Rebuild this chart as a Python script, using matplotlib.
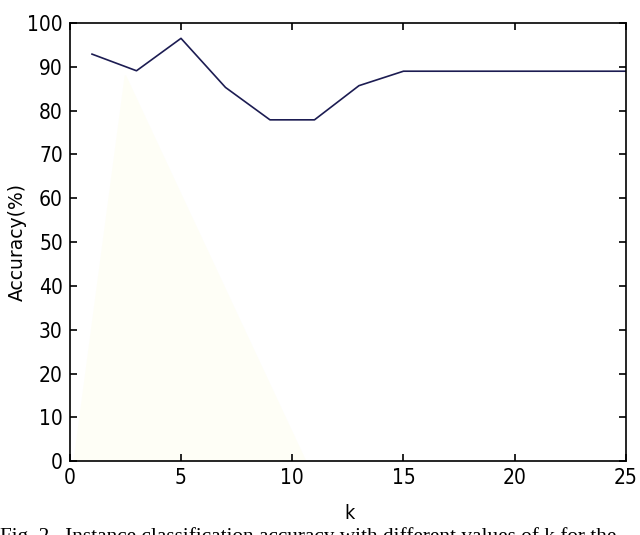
import matplotlib
matplotlib.use('Agg')
import matplotlib.pyplot as plt

# accuracy for each k
k_values = [1, 3, 5, 7, 9, 11, 13, 15, 17, 19, 21, 23, 25]
accuracy = [92.9, 89.1, 96.5, 85.3, 77.9, 77.9, 85.7, 89.0, 89.0, 89.0, 89.0, 89.0, 89.0]

# faint yellow wedge seen behind the curve
shade_x = [0.2, 2.5, 10.6]
shade_y = [0.0, 88.0, 0.0]

xticks = [0, 5, 10, 15, 20, 25]
yticks = [0, 10, 20, 30, 40, 50, 60, 70, 80, 90, 100]

fig = plt.figure(figsize=(6.4, 5.35), dpi=100)
ax = fig.add_axes([0.109, 0.138, 0.869, 0.819])

ax.fill(shade_x, shade_y, color='#fefef6', zorder=0)
ax.plot(k_values, accuracy, color='#1c1c52', linewidth=1.2)

ax.set_xlim(0, 25)
ax.set_ylim(0, 100)
ax.set_xticks(xticks)
ax.set_yticks(yticks)
ax.tick_params(direction='in', length=5, width=1.2, top=True, right=True,
               labelsize=15, pad=5)
for lab in ax.get_xticklabels() + ax.get_yticklabels():
    lab.set_fontfamily('DejaVu Sans')
    lab.set_fontstretch('condensed')
for s in ax.spines.values():
    s.set_linewidth(1.2)

ax.set_xlabel('k', fontsize=14, fontfamily='DejaVu Sans', fontstretch='condensed')
ax.xaxis.set_label_coords(0.503, -0.098)
ax.set_ylabel('Accuracy(%)', fontsize=13.5, fontfamily='DejaVu Sans')
ax.yaxis.set_label_coords(-0.078, 0.5)

fig.text(0.0, (535 - 527) / 535, 'Fig. 2.  Instance classification accuracy with different values of k for the',
         fontsize=15.3, fontfamily='Liberation Serif', va='top', ha='left')

fig.savefig('out.png', dpi=100)
